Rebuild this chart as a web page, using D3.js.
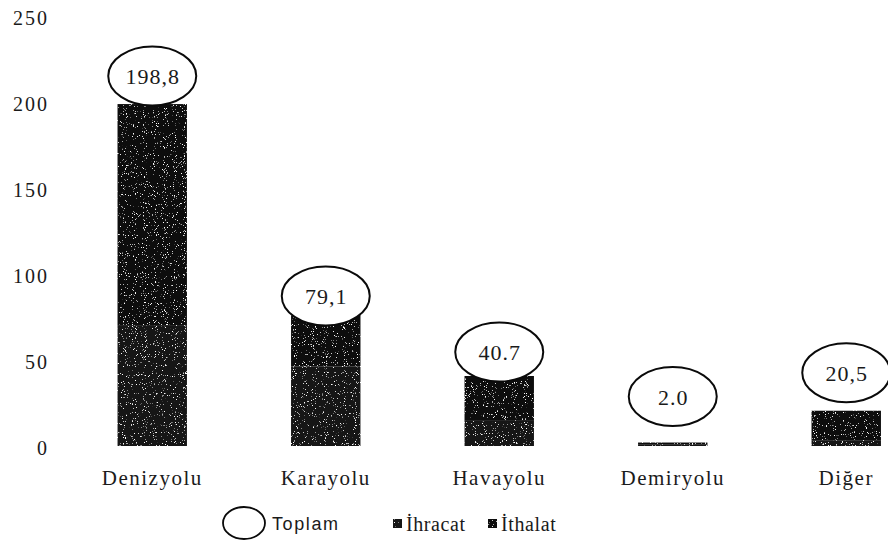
<!DOCTYPE html>
<html>
<head>
<meta charset="utf-8">
<script src="https://cdn.jsdelivr.net/npm/d3@7"></script>
<style>
  html, body { margin: 0; padding: 0; background: #fff; }
  svg { display: block; }
  .serif { font-family: "Liberation Serif", "Times New Roman", serif; fill: #1a1a1a; }
  .sans { font-family: "Liberation Sans", Arial, sans-serif; fill: #1a1a1a; }
</style>
</head>
<body>
<svg id="chart" width="888" height="544"></svg>
<script>
// ---- data ----
const categories = ["Denizyolu", "Karayolu", "Havayolu", "Demiryolu", "Diğer"];
const seriesNames = ["İhracat", "İthalat"];
const ihracat = [70.3, 46.2, 14.6, 0.7, 3.4];
const ithalat = [128.5, 32.9, 26.1, 1.3, 17.1];
const totalLabels = ["198,8", "79,1", "40.7", "2.0", "20,5"];
const yTicks = [0, 50, 100, 150, 200, 250];
const legendTotalName = "Toplam";

// ---- layout (not data) ----
const labelDy = [-28, -14, -24, -46, -38];
const seriesColors = ["#161616", "#0c0c0c"];

const svg = d3.select("#chart");
const defs = svg.append("defs");
const f = defs.append("filter").attr("id", "speckle")
  .attr("x", 0).attr("y", 0).attr("width", 1).attr("height", 1);
f.append("feTurbulence").attr("type", "fractalNoise").attr("baseFrequency", 0.9)
  .attr("numOctaves", 2).attr("seed", 7).attr("result", "noise");
f.append("feColorMatrix").attr("in", "noise").attr("type", "matrix")
  .attr("values", "0 0 0 0 1  0 0 0 0 1  0 0 0 0 1  10 0 0 0 -6.6").attr("result", "dots");
f.append("feComposite").attr("in", "dots").attr("in2", "SourceGraphic").attr("operator", "atop");

const x = d3.scaleBand().domain(categories).range([65.5, 933]).paddingInner(0.6).paddingOuter(0.3);
const y = d3.scaleLinear().domain([0, 250]).range([446, 16]);

const rows = categories.map((c, i) => ({ cat: c, "İhracat": ihracat[i], "İthalat": ithalat[i] }));
const stack = d3.stack().keys(seriesNames)(rows);

// bars
const gBars = svg.append("g");
stack.forEach((s, si) => {
  gBars.append("g").attr("fill", seriesColors[si]).attr("filter", "url(#speckle)")
    .selectAll("rect").data(s).join("rect")
    .attr("x", d => x(d.data.cat))
    .attr("width", x.bandwidth())
    .attr("y", d => y(d[1]))
    .attr("height", d => y(d[0]) - y(d[1]));
});

// y axis
const yAxis = svg.append("g").attr("transform", "translate(49,2)")
  .call(d3.axisLeft(y).tickValues(yTicks).tickSize(0).tickPadding(0).tickFormat(d3.format("d")));
yAxis.select(".domain").remove();
yAxis.selectAll("text").attr("class", "serif")
  .style("font-family", "'Liberation Serif', 'Times New Roman', serif")
  .style("font-size", "20px").style("letter-spacing", "2px").attr("fill", "#1a1a1a");

// x axis
const xAxis = svg.append("g").attr("transform", `translate(0,${y(0)})`)
  .call(d3.axisBottom(x).tickSize(0).tickPadding(24));
xAxis.select(".domain").remove();
xAxis.selectAll("text").attr("class", "serif")
  .style("font-family", "'Liberation Serif', 'Times New Roman', serif")
  .style("font-size", "21px").style("letter-spacing", "1.5px").attr("fill", "#1a1a1a");

// total ellipses
const totals = categories.map((c, i) => ihracat[i] + ithalat[i]);
const gTot = svg.append("g");
categories.forEach((c, i) => {
  const cx = x(c) + x.bandwidth() / 2;
  const cy = y(totals[i]) + labelDy[i];
  gTot.append("ellipse").attr("cx", cx).attr("cy", cy).attr("rx", 44).attr("ry", 29.5)
    .attr("fill", "#fff").attr("stroke", "#0a0a0a").attr("stroke-width", 2);
  gTot.append("text").attr("class", "serif").attr("x", cx + 0.5).attr("y", cy + 8)
    .attr("text-anchor", "middle").style("font-size", "22px").style("letter-spacing", "1px")
    .text(totalLabels[i]);
});

// legend
const lg = svg.append("g");
lg.append("ellipse").attr("cx", 244).attr("cy", 523).attr("rx", 21).attr("ry", 16)
  .attr("fill", "#fff").attr("stroke", "#0a0a0a").attr("stroke-width", 1.8);
lg.append("text").attr("class", "sans").attr("x", 272).attr("y", 530)
  .style("font-size", "18px").style("letter-spacing", "1.6px").text(legendTotalName);
const legX = [393, 488];
seriesNames.forEach((n, i) => {
  lg.append("rect").attr("x", legX[i]).attr("y", 519).attr("width", 9).attr("height", 9)
    .attr("fill", seriesColors[i]).attr("filter", "url(#speckle)");
  lg.append("text").attr("class", "serif").attr("x", legX[i] + 13).attr("y", 531)
    .style("font-size", "20px").style("letter-spacing", "0.6px").text(n);
});
</script>
</body>
</html>
